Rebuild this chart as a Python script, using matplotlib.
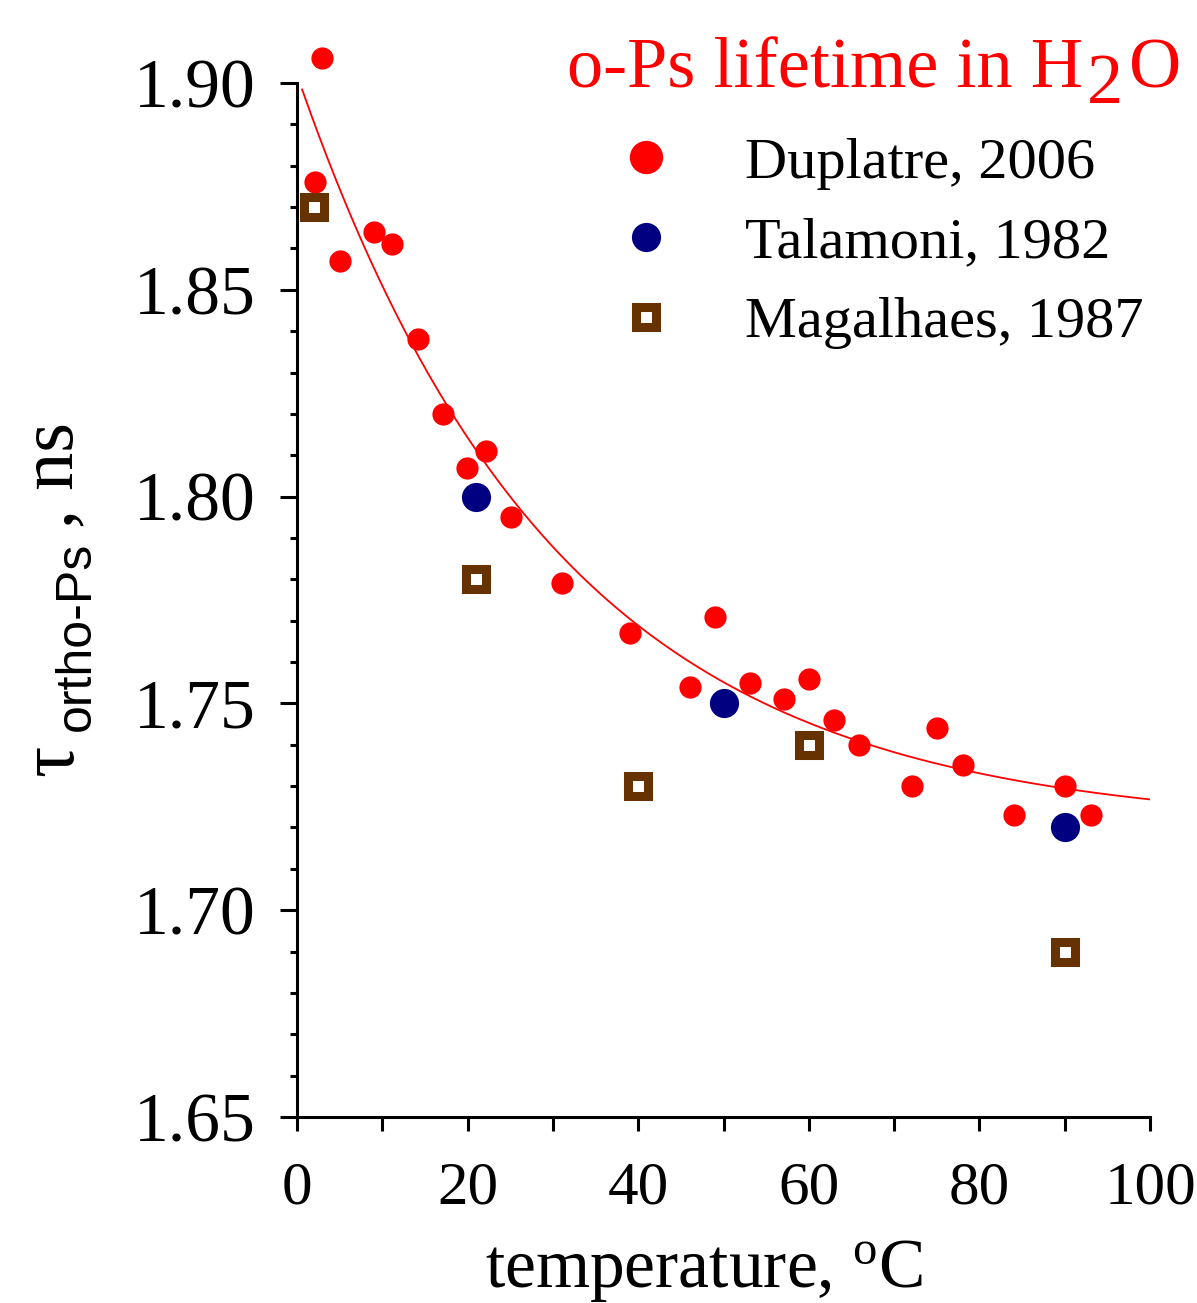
import numpy as np
import matplotlib
matplotlib.use("Agg")
import matplotlib.pyplot as plt
from matplotlib.ticker import MultipleLocator, FormatStrFormatter

plt.rcParams['font.family'] = ['Liberation Serif', 'DejaVu Serif']
plt.rcParams['mathtext.fontset'] = 'custom'
plt.rcParams['mathtext.rm'] = 'Liberation Serif'
plt.rcParams['mathtext.it'] = 'Liberation Serif:italic'
plt.rcParams['mathtext.sf'] = 'Liberation Sans'

# Duplatre, 2006
dup_t = [2.9, 2.1, 5.0, 9.0, 11.1, 14.2, 17.1, 19.9, 22.2, 25.1, 31.1, 39.0, 46.1,
         49.0, 53.1, 57.1, 60.0, 63.0, 65.9, 72.1, 75.0, 78.1, 84.1, 90.0, 93.1]
dup_tau = [1.906, 1.876, 1.857, 1.864, 1.861, 1.838, 1.820, 1.807, 1.811, 1.795,
           1.779, 1.767, 1.754, 1.771, 1.755, 1.751, 1.756, 1.746, 1.740, 1.730,
           1.744, 1.735, 1.723, 1.730, 1.723]
# Talamoni, 1982
tal_t = [21.0, 50.0, 90.0]
tal_tau = [1.80, 1.75, 1.72]
# Magalhaes, 1987
mag_t = [2.0, 21.0, 40.0, 60.0, 90.0]
mag_tau = [1.87, 1.78, 1.73, 1.74, 1.69]

# exponential fit to the Duplatre data: tau = c + A*exp(-t/t0)
fit_c, fit_A, fit_t0 = 1.72, 0.182, 30.4
fit_range = (0.6, 100.0)

W, H = 1197, 1303
fig = plt.figure(figsize=(W / 100, H / 100), dpi=100, facecolor='w')
ax = fig.add_axes([297 / W, 1 - 1117 / H, (1150 - 297) / W, (1117 - 83) / H])

tt = np.linspace(fit_range[0], fit_range[1], 300)
ax.plot(tt, fit_c + fit_A * np.exp(-tt / fit_t0), color='red', lw=1.3, zorder=1)

ax.plot(dup_t, dup_tau, 'o', color='red', ms=16, mew=0, label='Duplatre, 2006',
        clip_on=False, zorder=3)
ax.plot(tal_t, tal_tau, 'o', color='#000080', ms=21, mew=0, label='Talamoni, 1982',
        clip_on=False, zorder=4)
ax.plot(mag_t, mag_tau, 's', mfc='white', mec='#663300', ms=15, mew=6.5,
        label='Magalhaes, 1987', clip_on=False, zorder=5)

ax.set_xlim(0, 100)
ax.set_ylim(1.65, 1.90)
for s in ['top', 'right']:
    ax.spines[s].set_visible(False)
for s in ['left', 'bottom']:
    ax.spines[s].set_linewidth(2.2)

ax.xaxis.set_major_locator(MultipleLocator(20))
ax.xaxis.set_minor_locator(MultipleLocator(10))
ax.yaxis.set_major_locator(MultipleLocator(0.05))
ax.yaxis.set_minor_locator(MultipleLocator(0.01))
ax.yaxis.set_major_formatter(FormatStrFormatter('%.2f'))
ax.tick_params(axis='x', which='both', direction='out', length=10, width=2.2,
               labelsize=44, pad=22)
ax.tick_params(axis='y', which='major', direction='out', length=12, width=2.2,
               labelsize=50, pad=18)
ax.tick_params(axis='y', which='minor', direction='out', length=5, width=2.2)

# x label
ax.set_xlabel(r'temperature, $^{\mathrm{o}}$C', fontsize=50)
ax.xaxis.label.set_va('baseline')
ax.xaxis.set_label_coords((704 - 297) / (1150 - 297), -(1287 - 1117) / (1117 - 83))

# y label, built from pieces (rotated, reading bottom to top)
fig.text(72 / W, 1 - 776 / H, 'τ', rotation=90, rotation_mode='anchor',
         ha='left', va='baseline', fontsize=56)
fig.text(90 / W, 1 - 731 / H, 'ortho-Ps', rotation=90, rotation_mode='anchor',
         ha='left', va='baseline', fontsize=36, family='Liberation Sans')
fig.text(72 / W, 1 - 528 / H, ', ns', rotation=90, rotation_mode='anchor',
         ha='left', va='baseline', fontsize=55)

# title: o-Ps lifetime in H2O, with a full-size lowered "2"
r = fig.canvas.get_renderer()
ybase = 1 - 87 / H
t_o = fig.text(1181 / W, ybase, 'O', color='red', fontsize=52, ha='right', va='baseline')
x_right = t_o.get_window_extent(r).x0 - 6
t_2 = fig.text(x_right / W, ybase - 16 / H, '2', color='red', fontsize=52,
               ha='right', va='baseline')
x_right = t_2.get_window_extent(r).x0 - 4
fig.text(x_right / W, ybase, 'o-Ps lifetime in H', color='red', fontsize=52,
         ha='right', va='baseline')

leg = ax.legend(loc='upper left', bbox_to_anchor=(617 / W, 1 - 137 / H),
                bbox_transform=fig.transFigure, frameon=False, fontsize=42,
                numpoints=1, handlelength=1.0, handletextpad=1.2,
                labelspacing=0.46, borderpad=0, borderaxespad=0)
leg.legend_handles[0].set_markersize(24)

fig.savefig('out.png', dpi=100)
